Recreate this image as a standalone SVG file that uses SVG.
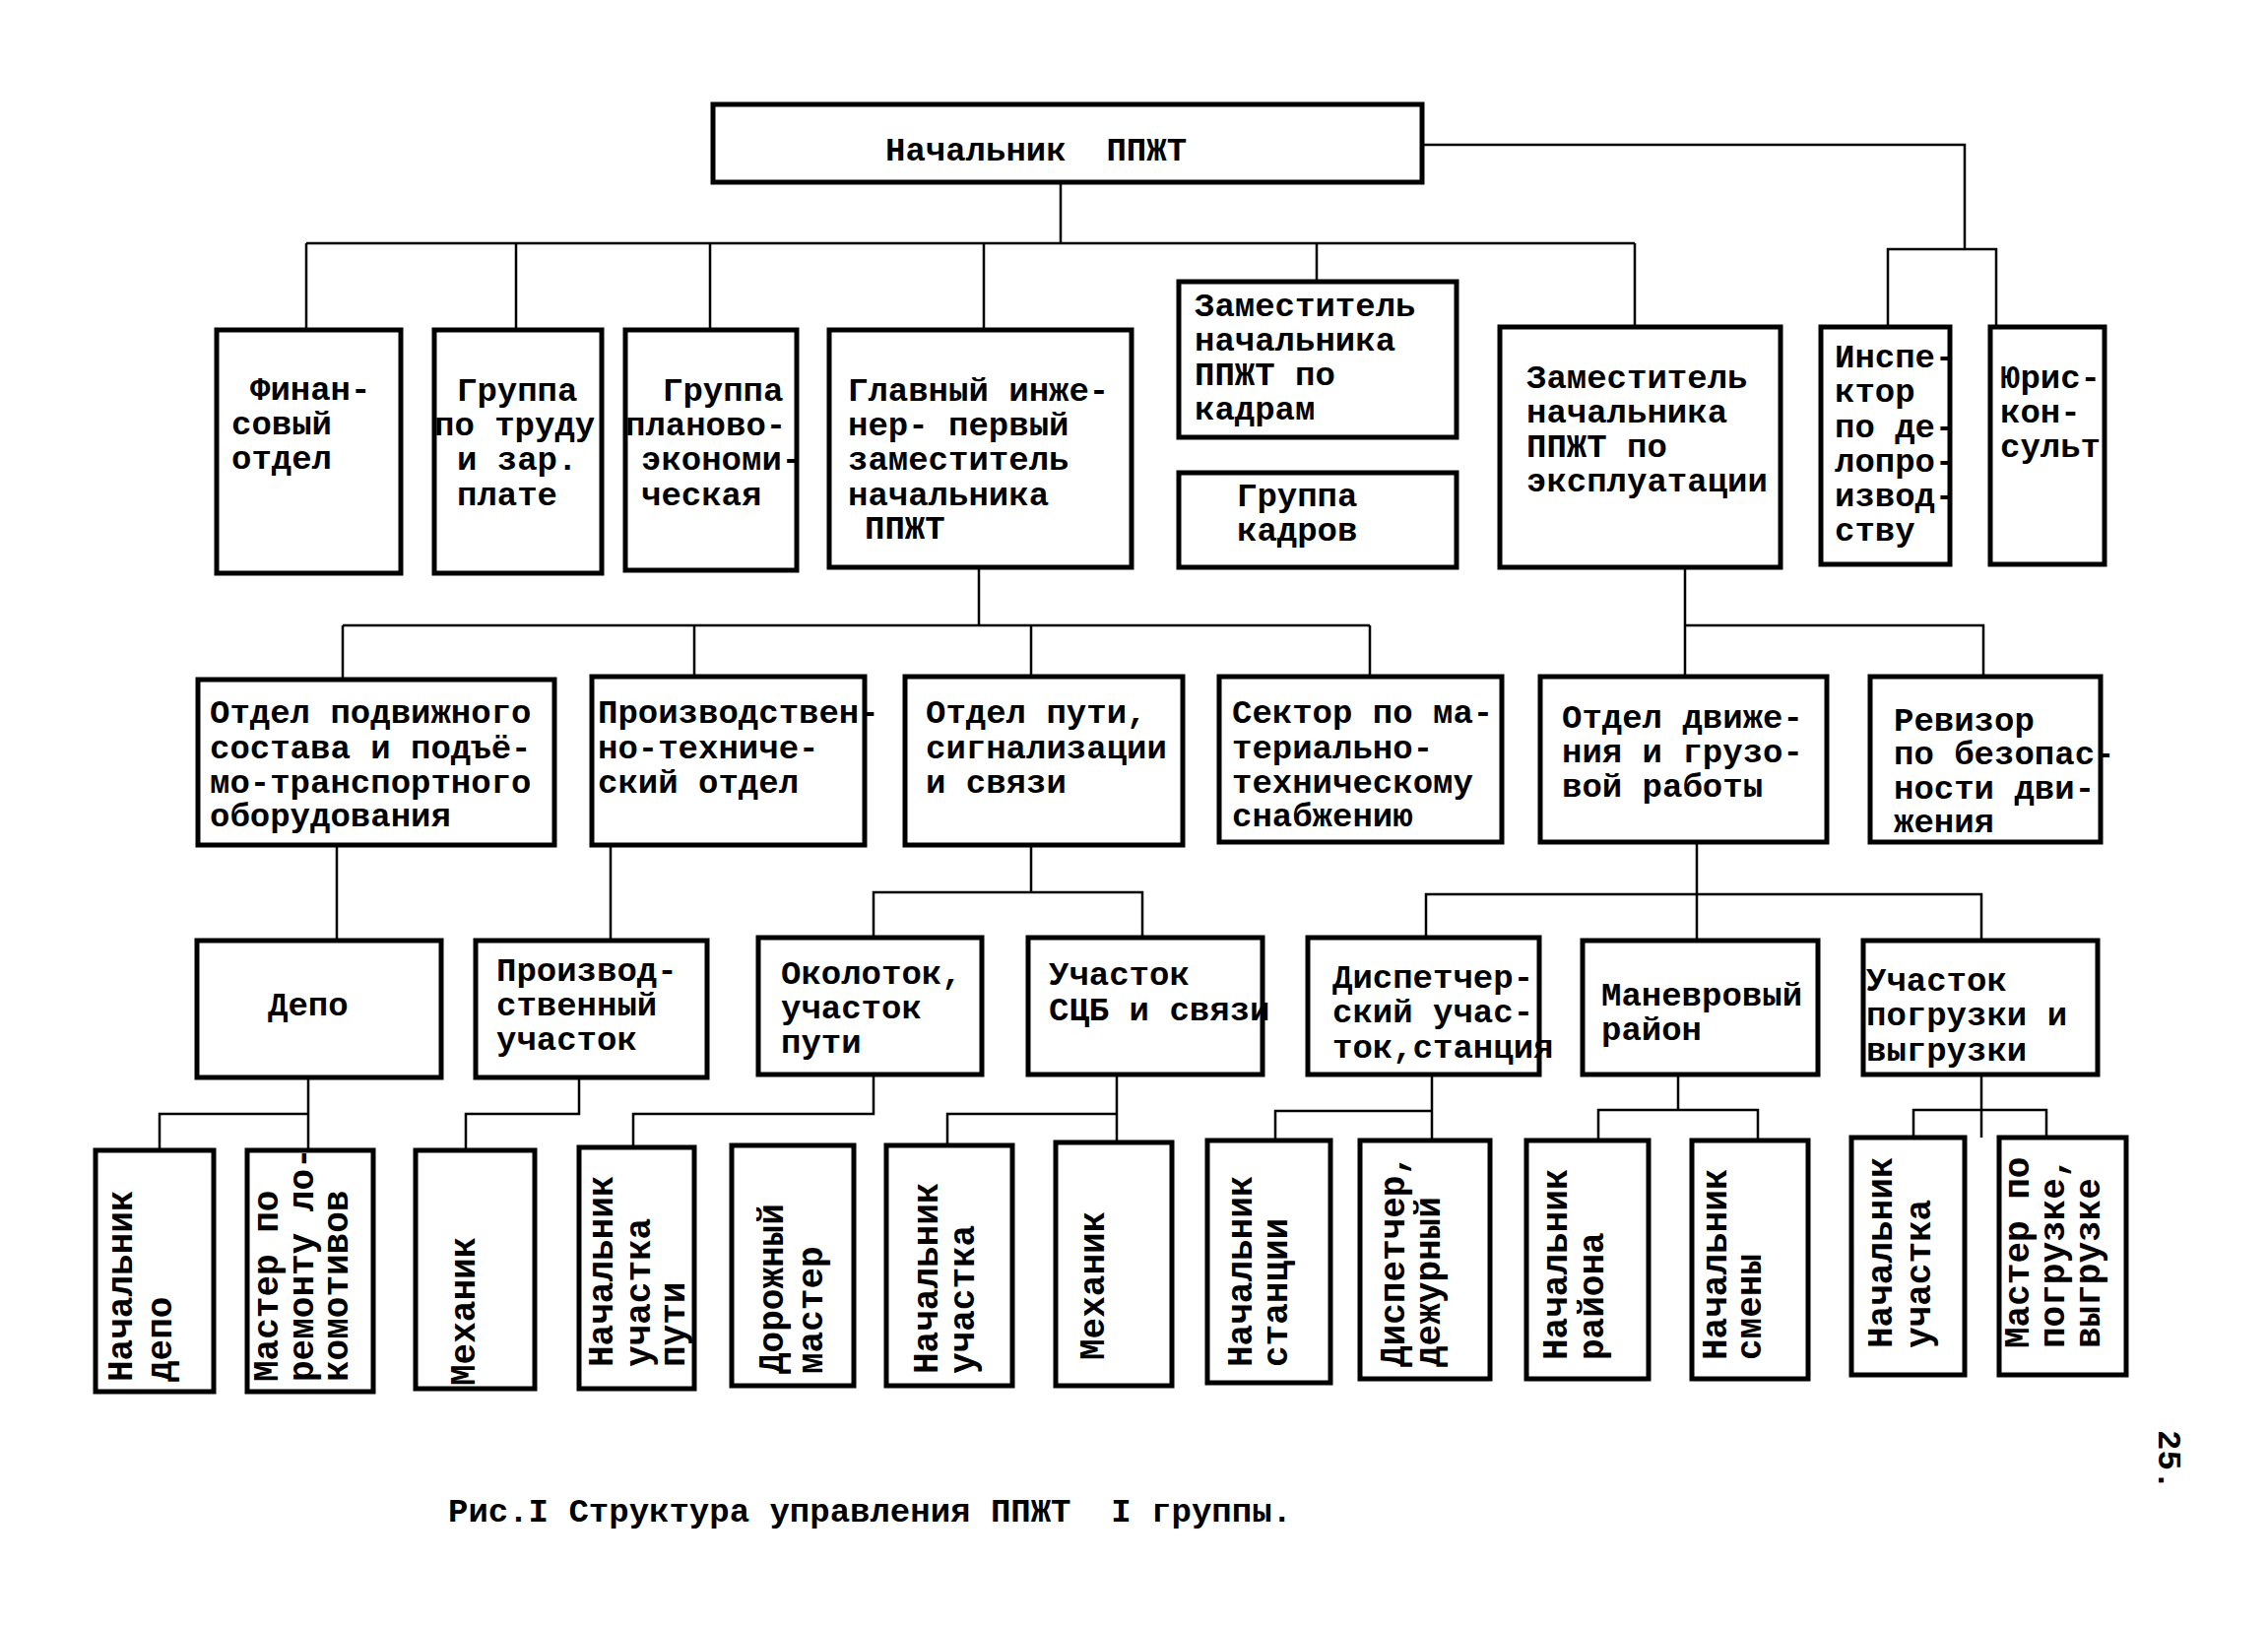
<svg xmlns="http://www.w3.org/2000/svg" width="2303" height="1653" viewBox="0 0 2303 1653">
<style>
.box{fill:#fff;stroke:#000;stroke-width:5}
.ln{fill:none;stroke:#000;stroke-width:2.5}
text{font-family:"Liberation Mono","DejaVu Sans Mono",monospace;font-weight:bold;font-size:34px;fill:#000}
.v{font-size:36px}
</style>
<rect width="2303" height="1653" fill="#fff"/>
<g id="connectors">
<path class="ln" d="M1077 185V247M311 247H1660M311 247V335M524 247V335M721 247V335M999 247V335M1337 247V286M1660 247V332"/>
<path class="ln" d="M1444 147H1995V253M1917 332V253H2027V332"/>
<path class="ln" d="M994 576V635M348 635H1391M348 635V690M705 635V687M1047 635V687M1391 635V687M1711 576V687M1711 635H2014V687"/>
<path class="ln" d="M342 858V955M620 858V955M1047 858V906M887 952V906H1160V952M1723 855V955M1448 952V908H2012V955"/>
<path class="ln" d="M313 1094V1168M162 1168V1131H313M588 1094V1131H473V1168M887 1091V1131H643V1165M1134 1091V1163M962 1163V1131H1134M1454 1091V1158M1295 1158V1128H1454M1704 1091V1127M1623 1158V1127H1785V1158M2012 1091V1155M1943 1155V1127H2078V1155"/>
</g>
<g id="n-top"><rect class="box" x="724" y="106" width="720" height="79"/><text x="899" y="163" xml:space="preserve">Начальник  ППЖТ</text></g>
<g id="n-fin"><rect class="box" x="220" y="335" width="187" height="247"/><text><tspan x="254" y="406">Финан-</tspan><tspan x="235" y="441">совый</tspan><tspan x="235" y="476">отдел</tspan></text></g>
<g id="n-trud"><rect class="box" x="441" y="335" width="170" height="247"/><text><tspan x="464" y="407">Группа</tspan><tspan x="441" y="442">по труду</tspan><tspan x="464" y="477">и зар.</tspan><tspan x="464" y="513">плате</tspan></text></g>
<g id="n-plan"><rect class="box" x="635" y="335" width="174" height="244"/><text><tspan x="673" y="407">Группа</tspan><tspan x="635" y="442">планово-</tspan><tspan x="651" y="477">экономи-</tspan><tspan x="651" y="513">ческая</tspan></text></g>
<g id="n-glav"><rect class="box" x="842" y="335" width="307" height="241"/><text><tspan x="861" y="407">Главный инже-</tspan><tspan x="861" y="442">нер- первый</tspan><tspan x="861" y="477">заместитель</tspan><tspan x="861" y="513">начальника</tspan><tspan x="878" y="547">ППЖТ</tspan></text></g>
<g id="n-kadr"><rect class="box" x="1197" y="286" width="282" height="158"/><text><tspan x="1213" y="321">Заместитель</tspan><tspan x="1213" y="356">начальника</tspan><tspan x="1213" y="391">ППЖТ по</tspan><tspan x="1213" y="426">кадрам</tspan></text></g>
<g id="n-gkadr"><rect class="box" x="1197" y="480" width="282" height="96"/><text><tspan x="1256" y="514">Группа</tspan><tspan x="1256" y="549">кадров</tspan></text></g>
<g id="n-expl"><rect class="box" x="1523" y="332" width="285" height="244"/><text><tspan x="1550" y="394">Заместитель</tspan><tspan x="1550" y="429">начальника</tspan><tspan x="1550" y="464">ППЖТ по</tspan><tspan x="1550" y="499">эксплуатации</tspan></text></g>
<g id="n-insp"><rect class="box" x="1849" y="332" width="131" height="241"/><text><tspan x="1863" y="373">Инспе-</tspan><tspan x="1863" y="408">ктор</tspan><tspan x="1863" y="444">по де-</tspan><tspan x="1863" y="479">лопро-</tspan><tspan x="1863" y="514">извод-</tspan><tspan x="1863" y="549">ству</tspan></text></g>
<g id="n-jur"><rect class="box" x="2021" y="332" width="116" height="241"/><text><tspan x="2031" y="394">Юрис-</tspan><tspan x="2031" y="429">кон-</tspan><tspan x="2031" y="464">сульт</tspan></text></g>
<g id="n-podv"><rect class="box" x="201" y="690" width="362" height="168"/><text><tspan x="213" y="734">Отдел подвижного</tspan><tspan x="213" y="770">состава и подъё-</tspan><tspan x="213" y="805">мо-транспортного</tspan><tspan x="213" y="839">оборудования</tspan></text></g>
<g id="n-pto"><rect class="box" x="601" y="687" width="277" height="171"/><text><tspan x="607" y="734">Производствен-</tspan><tspan x="607" y="770">но-техниче-</tspan><tspan x="607" y="805">ский отдел</tspan></text></g>
<g id="n-put"><rect class="box" x="919" y="687" width="282" height="171"/><text><tspan x="940" y="734">Отдел пути,</tspan><tspan x="940" y="770">сигнализации</tspan><tspan x="940" y="805">и связи</tspan></text></g>
<g id="n-mts"><rect class="box" x="1238" y="687" width="287" height="168"/><text><tspan x="1251" y="734">Сектор по ма-</tspan><tspan x="1251" y="770">териально-</tspan><tspan x="1251" y="805">техническому</tspan><tspan x="1251" y="839">снабжению</tspan></text></g>
<g id="n-dvizh"><rect class="box" x="1564" y="687" width="291" height="168"/><text><tspan x="1586" y="739">Отдел движе-</tspan><tspan x="1586" y="774">ния и грузо-</tspan><tspan x="1586" y="809">вой работы</tspan></text></g>
<g id="n-rev"><rect class="box" x="1899" y="687" width="234" height="168"/><text><tspan x="1923" y="742">Ревизор</tspan><tspan x="1923" y="776">по безопас-</tspan><tspan x="1923" y="811">ности дви-</tspan><tspan x="1923" y="845">жения</tspan></text></g>
<g id="n-depo"><rect class="box" x="200" y="955" width="248" height="139"/><text x="272" y="1031">Депо</text></g>
<g id="n-pruch"><rect class="box" x="483" y="955" width="235" height="139"/><text><tspan x="504" y="996">Производ-</tspan><tspan x="504" y="1031">ственный</tspan><tspan x="504" y="1066">участок</tspan></text></g>
<g id="n-okol"><rect class="box" x="770" y="952" width="227" height="139"/><text><tspan x="793" y="999">Околоток,</tspan><tspan x="793" y="1034">участок</tspan><tspan x="793" y="1069">пути</tspan></text></g>
<g id="n-scb"><rect class="box" x="1044" y="952" width="238" height="139"/><text><tspan x="1065" y="1000">Участок</tspan><tspan x="1065" y="1036">СЦБ и связи</tspan></text></g>
<g id="n-disp"><rect class="box" x="1328" y="952" width="235" height="139"/><text><tspan x="1353" y="1003">Диспетчер-</tspan><tspan x="1353" y="1038">ский учас-</tspan><tspan x="1353" y="1074">ток,станция</tspan></text></g>
<g id="n-man"><rect class="box" x="1607" y="955" width="239" height="136"/><text><tspan x="1626" y="1021">Маневровый</tspan><tspan x="1626" y="1056">район</tspan></text></g>
<g id="n-pogr"><rect class="box" x="1892" y="955" width="238" height="136"/><text><tspan x="1895" y="1006">Участок</tspan><tspan x="1895" y="1041">погрузки и</tspan><tspan x="1895" y="1077">выгрузки</tspan></text></g>
<g id="n-l1"><rect class="box" x="97" y="1168" width="120" height="245"/><text class="v" transform="translate(134 1403) rotate(-90)">Начальник</text><text class="v" transform="translate(174 1403) rotate(-90)">депо</text></g>
<g id="n-l2"><rect class="box" x="251" y="1168" width="128" height="245"/><text class="v" transform="translate(282 1403) rotate(-90)">Мастер по</text><text class="v" transform="translate(318 1403) rotate(-90)">ремонту ло-</text><text class="v" transform="translate(353 1403) rotate(-90)">комотивов</text></g>
<g id="n-l3"><rect class="box" x="422" y="1168" width="121" height="242"/><text class="v" transform="translate(482 1407) rotate(-90)">Механик</text></g>
<g id="n-l4"><rect class="box" x="588" y="1165" width="117" height="245"/><text class="v" transform="translate(622 1388) rotate(-90)">Начальник</text><text class="v" transform="translate(660 1388) rotate(-90)">участка</text><text class="v" transform="translate(695 1388) rotate(-90)">пути</text></g>
<g id="n-l5"><rect class="box" x="743" y="1163" width="124" height="244"/><text class="v" transform="translate(795 1395) rotate(-90)">Дорожный</text><text class="v" transform="translate(835 1395) rotate(-90)">мастер</text></g>
<g id="n-l6"><rect class="box" x="900" y="1163" width="128" height="244"/><text class="v" transform="translate(952 1395) rotate(-90)">Начальник</text><text class="v" transform="translate(989 1395) rotate(-90)">участка</text></g>
<g id="n-l7"><rect class="box" x="1072" y="1160" width="118" height="247"/><text class="v" transform="translate(1121 1381) rotate(-90)">Механик</text></g>
<g id="n-l8"><rect class="box" x="1226" y="1158" width="125" height="246"/><text class="v" transform="translate(1271 1388) rotate(-90)">Начальник</text><text class="v" transform="translate(1307 1388) rotate(-90)">станции</text></g>
<g id="n-l9"><rect class="box" x="1381" y="1158" width="132" height="242"/><text class="v" transform="translate(1426 1388) rotate(-90)">Диспетчер,</text><text class="v" transform="translate(1462 1388) rotate(-90)">дежурный</text></g>
<g id="n-l10"><rect class="box" x="1550" y="1158" width="124" height="242"/><text class="v" transform="translate(1591 1381) rotate(-90)">Начальник</text><text class="v" transform="translate(1628 1381) rotate(-90)">района</text></g>
<g id="n-l11"><rect class="box" x="1718" y="1158" width="118" height="242"/><text class="v" transform="translate(1753 1381) rotate(-90)">Начальник</text><text class="v" transform="translate(1788 1381) rotate(-90)">смены</text></g>
<g id="n-l12"><rect class="box" x="1880" y="1155" width="115" height="241"/><text class="v" transform="translate(1921 1369) rotate(-90)">Начальник</text><text class="v" transform="translate(1960 1369) rotate(-90)">участка</text></g>
<g id="n-l13"><rect class="box" x="2030" y="1155" width="129" height="241"/><text class="v" transform="translate(2060 1369) rotate(-90)">Мастер по</text><text class="v" transform="translate(2096 1369) rotate(-90)">погрузке,</text><text class="v" transform="translate(2132 1369) rotate(-90)">выгрузке</text></g>
<text x="455" y="1545" xml:space="preserve">Рис.I Структура управления ППЖТ  I группы.</text>
<text transform="translate(2192 1452) rotate(90)">25.</text>
</svg>
